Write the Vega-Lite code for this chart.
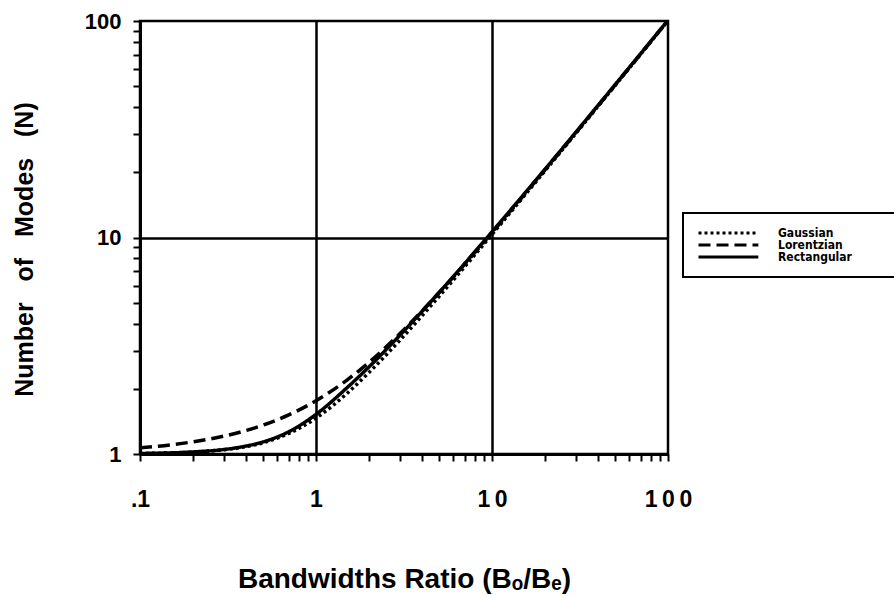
{
  "$schema": "https://vega.github.io/schema/vega-lite/v6.json",
  "width": 528,
  "height": 433,
  "autosize": "none",
  "padding": {"left": 140, "top": 21, "right": 226, "bottom": 144},
  "background": "white",
  "config": {
    "view": {"stroke": "black", "strokeWidth": 2.5},
    "font": "Liberation Sans",
    "legend": {"strokeColor": "black", "strokeWidth": 2}
  },
  "data": {
    "values": [
      {"type": "Gaussian", "ratio": 0.1, "modes": 1.005},
      {"type": "Gaussian", "ratio": 0.15, "modes": 1.012},
      {"type": "Gaussian", "ratio": 0.2, "modes": 1.021},
      {"type": "Gaussian", "ratio": 0.3, "modes": 1.047},
      {"type": "Gaussian", "ratio": 0.4, "modes": 1.082},
      {"type": "Gaussian", "ratio": 0.5, "modes": 1.127},
      {"type": "Gaussian", "ratio": 0.7, "modes": 1.244},
      {"type": "Gaussian", "ratio": 1, "modes": 1.464},
      {"type": "Gaussian", "ratio": 1.5, "modes": 1.904},
      {"type": "Gaussian", "ratio": 2, "modes": 2.379},
      {"type": "Gaussian", "ratio": 3, "modes": 3.356},
      {"type": "Gaussian", "ratio": 5, "modes": 5.34},
      {"type": "Gaussian", "ratio": 7, "modes": 7.334},
      {"type": "Gaussian", "ratio": 10, "modes": 10.33},
      {"type": "Gaussian", "ratio": 20, "modes": 20.32},
      {"type": "Gaussian", "ratio": 50, "modes": 50.32},
      {"type": "Gaussian", "ratio": 100, "modes": 100.3},
      {"type": "Lorentzian", "ratio": 0.1, "modes": 1.068},
      {"type": "Lorentzian", "ratio": 0.15, "modes": 1.103},
      {"type": "Lorentzian", "ratio": 0.2, "modes": 1.138},
      {"type": "Lorentzian", "ratio": 0.3, "modes": 1.21},
      {"type": "Lorentzian", "ratio": 0.4, "modes": 1.283},
      {"type": "Lorentzian", "ratio": 0.5, "modes": 1.359},
      {"type": "Lorentzian", "ratio": 0.7, "modes": 1.516},
      {"type": "Lorentzian", "ratio": 1, "modes": 1.762},
      {"type": "Lorentzian", "ratio": 1.5, "modes": 2.195},
      {"type": "Lorentzian", "ratio": 2, "modes": 2.651},
      {"type": "Lorentzian", "ratio": 3, "modes": 3.598},
      {"type": "Lorentzian", "ratio": 5, "modes": 5.556},
      {"type": "Lorentzian", "ratio": 7, "modes": 7.538},
      {"type": "Lorentzian", "ratio": 10, "modes": 10.53},
      {"type": "Lorentzian", "ratio": 20, "modes": 20.51},
      {"type": "Lorentzian", "ratio": 50, "modes": 50.51},
      {"type": "Lorentzian", "ratio": 100, "modes": 100.5},
      {"type": "Rectangular", "ratio": 0.1, "modes": 1.006},
      {"type": "Rectangular", "ratio": 0.15, "modes": 1.012},
      {"type": "Rectangular", "ratio": 0.2, "modes": 1.022},
      {"type": "Rectangular", "ratio": 0.3, "modes": 1.049},
      {"type": "Rectangular", "ratio": 0.4, "modes": 1.088},
      {"type": "Rectangular", "ratio": 0.5, "modes": 1.137},
      {"type": "Rectangular", "ratio": 0.7, "modes": 1.267},
      {"type": "Rectangular", "ratio": 1, "modes": 1.525},
      {"type": "Rectangular", "ratio": 1.5, "modes": 2.023},
      {"type": "Rectangular", "ratio": 2, "modes": 2.525},
      {"type": "Rectangular", "ratio": 3, "modes": 3.539},
      {"type": "Rectangular", "ratio": 5, "modes": 5.567},
      {"type": "Rectangular", "ratio": 7, "modes": 7.589},
      {"type": "Rectangular", "ratio": 10, "modes": 10.62},
      {"type": "Rectangular", "ratio": 20, "modes": 20.67},
      {"type": "Rectangular", "ratio": 50, "modes": 50.75},
      {"type": "Rectangular", "ratio": 100, "modes": 100.8}
    ]
  },
  "mark": {"type": "line", "strokeWidth": 3.5, "color": "black", "clip": true, "interpolate": "monotone"},
  "encoding": {
    "x": {
      "field": "ratio",
      "type": "quantitative",
      "scale": {"type": "log", "domain": [0.1, 100]},
      "axis": {
        "values": [0.1, 0.2, 0.3, 0.4, 0.5, 0.6, 0.7, 0.8, 0.9, 1, 2, 3, 4, 5, 6, 7, 8, 9, 10, 20, 30, 40, 50, 60, 70, 80, 90, 100],
        "labelExpr": "datum.value == 0.1 ? '.1' : datum.value == 1 ? '1' : datum.value == 10 ? '1\u20090' : datum.value == 100 ? '1\u20090\u20090' : ''",
        "labelOverlap": false,
        "labelFlush": false,
        "grid": true,
        "gridColor": "black",
        "gridWidth": 2.5,
        "gridOpacity": {"condition": {"test": "datum.value == 1 || datum.value == 10", "value": 1}, "value": 0},
        "domainColor": "black",
        "domainWidth": 3,
        "tickColor": "black",
        "tickWidth": 2,
        "tickSize": 7,
        "labelFontSize": 23,
        "labelFontWeight": "bold",
        "labelColor": "black",
        "labelPadding": 27,
        "title": "Bandwidths Ratio (Bₒ/Bₑ)",
        "titleFontSize": 28,
        "titleFontWeight": "bold",
        "titleColor": "black",
        "titlePadding": 54
      }
    },
    "y": {
      "field": "modes",
      "type": "quantitative",
      "scale": {"type": "log", "domain": [1, 100]},
      "axis": {
        "values": [1, 2, 3, 4, 5, 6, 7, 8, 9, 10, 20, 30, 40, 50, 60, 70, 80, 90, 100],
        "labelExpr": "datum.value == 1 || datum.value == 10 || datum.value == 100 ? format(datum.value, 'd') : ''",
        "labelOverlap": false,
        "labelFlush": false,
        "grid": true,
        "gridColor": "black",
        "gridWidth": 2.5,
        "gridOpacity": {"condition": {"test": "datum.value == 10", "value": 1}, "value": 0},
        "domainColor": "black",
        "domainWidth": 3,
        "tickColor": "black",
        "tickWidth": 2,
        "tickSize": 7,
        "labelFontSize": 22,
        "labelFontWeight": "bold",
        "labelColor": "black",
        "labelPadding": 12,
        "title": "Number\u00a0\u00a0\u00a0of\u00a0\u00a0\u00a0Modes\u00a0\u00a0\u00a0(N)",
        "titleFontSize": 25,
        "titleFontWeight": "bold",
        "titleColor": "black",
        "titlePadding": 47,
        "titleY": 228
      }
    },
    "strokeDash": {
      "field": "type",
      "type": "nominal",
      "scale": {"domain": ["Gaussian", "Lorentzian", "Rectangular"], "range": [[3, 3], [12, 6], [1, 0]]},
      "legend": {
        "orient": "none",
        "legendX": 543,
        "legendY": 192,
        "title": null,
        "fillColor": "white",
        "padding": 14,
        "cornerRadius": 0,
        "symbolType": "M-1,0H12.3",
        "symbolSize": 81,
        "symbolStrokeWidth": 3,
        "symbolStrokeColor": "black",
        "symbolFillColor": "transparent",
        "rowPadding": 0,
        "labelOffset": 69,
        "labelFont": "DejaVu Sans Condensed, Liberation Sans, sans-serif",
        "labelFontSize": 12,
        "labelFontWeight": "bold",
        "labelColor": "black",
        "labelLimit": 400,
        "labelExpr": "datum.label + '\u2800\u2800\u2800\u2800\u2800\u2800\u2800'"
      }
    }
  }
}
